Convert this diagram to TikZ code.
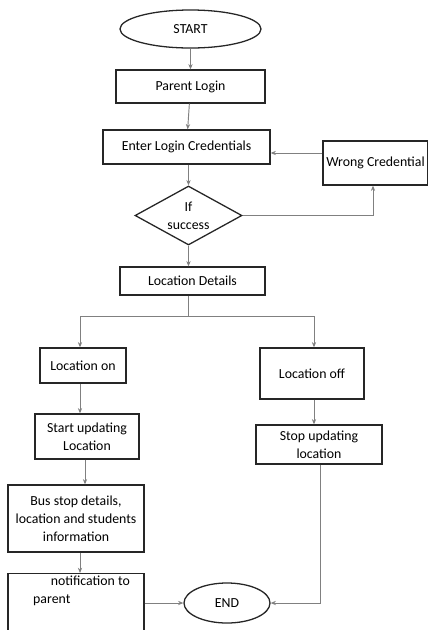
\documentclass[tikz,border=0pt]{standalone}
\usepackage{fontspec}
\setmainfont{Carlito}
\usepackage{xcolor}
\usepackage{tikz}
\usetikzlibrary{arrows.meta,positioning,calc,shapes.geometric}

\begin{document}
\begin{tikzpicture}[>={Stealth[length=1.6mm,width=1.3mm]}, x=0.03cm, y=-0.03cm, font=\fontsize{11.8}{15.5}\selectfont]
\tikzstyle{b}=[rectangle,draw=black!85,line width=1.1pt,align=center,inner sep=1pt]
\tikzstyle{t}=[ellipse,draw=black!85,line width=1.1pt,inner sep=0pt]
\tikzstyle{l}=[draw=black!50,line width=0.8pt]
\useasboundingbox (0,0) rectangle (428,630);
\node[t, minimum width=4.23cm, minimum height=1.14cm] (start) at (190.5,29) {START};
\node[b, minimum width=4.47cm, minimum height=0.99cm] (parent) at (190.5,86.5) {Parent Login};
\node[b, minimum width=5.01cm, minimum height=1.02cm] (enter) at (186.5,147) {Enter Login Credentials};
\node[b, minimum width=3.15cm, minimum height=1.32cm] (wrong) at (375.5,163) {Wrong Credential};
\node[diamond, draw=black!85, line width=1.1pt, minimum width=3.21cm, minimum height=1.77cm, inner sep=-9pt, align=center] (ifok) at (188.5,215.5) {If\\success};
\node[b, minimum width=4.35cm, minimum height=0.84cm] (locdet) at (192.5,281) {Location Details};
\node[b, minimum width=2.58cm, minimum height=1.05cm] (locon) at (83,365.5) {Location on};
\node[b, minimum width=3.12cm, minimum height=1.53cm] (locoff) at (312,373.5) {Location off};
\node[b, minimum width=3.12cm, minimum height=1.35cm] (startupd) at (87,436.5) {Start updating\\Location};
\node[b, minimum width=3.78cm, minimum height=1.17cm] (stopupd) at (319,444.5) {Stop updating\\location};
\node[b, minimum width=4.08cm, minimum height=2.01cm] (busstop) at (76,518.5) {Bus stop details,\\location and students\\information};
\node[b, minimum width=4.08cm, minimum height=2.7cm, anchor=north] (notif) at (76,573) {};
\node[align=left, anchor=north west, inner sep=0pt] (notiftxt) at (33,576) {\hspace{5.3mm}notification to\\parent};
\node[t, minimum width=2.58cm, minimum height=1.2cm] (end) at (227,603) {END};
\coordinate (split) at (188,316);
\draw[l,->] (start) -- (parent);
\draw[l,->] (parent) -- (enter);
\draw[l,->] (enter.south -| ifok.north) -- (ifok);
\draw[l,->] (ifok.east) -| (wrong.south -| 373,0);
\draw[l,->] ([yshift=3mm]wrong.west) -- ([yshift=3mm]wrong.west -| enter.east);
\draw[l,->] (ifok) -- (locdet.north -| ifok);
\draw[l] (locdet.south -| split) -- (split);
\draw[l,->] (split) -| (locon.north -| 80,0);
\draw[l,->] (split) -| (locoff.north -| 314,0);
\draw[l,->] (locon.south -| 80,0) -- (startupd.north -| 80,0);
\draw[l,->] (locoff.south -| 314,0) -- (stopupd.north -| 314,0);
\draw[l,->] (startupd.south -| 85,0) -- (busstop.north -| 85,0);
\draw[l,->] (busstop.south -| 80,0) -- (notif.north -| 80,0);
\draw[l,->] (end.west -| notif.east) -- (end.west);
\draw[l,->] (stopupd.south -| 320,0) |- (end.east);
\end{tikzpicture}
\end{document}
